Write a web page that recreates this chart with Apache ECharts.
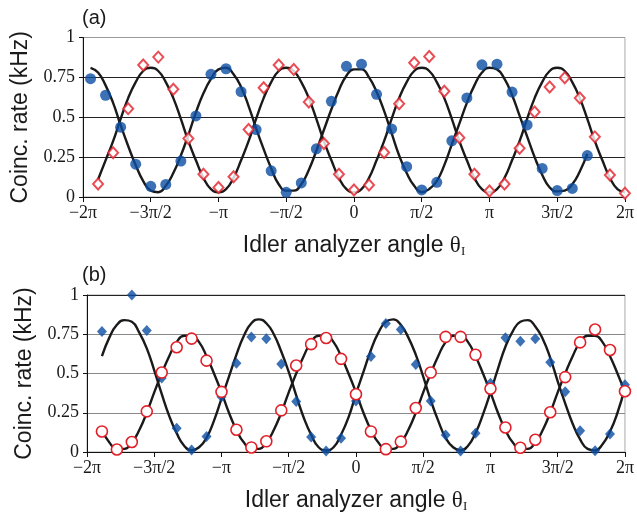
<!DOCTYPE html>
<html>
<head>
<meta charset="utf-8">
<script src="https://cdn.jsdelivr.net/npm/echarts@6/dist/echarts.min.js"></script>
<style>
  html, body { margin: 0; padding: 0; background: #fff; }
  #main { width: 637px; height: 514px; }
</style>
</head>
<body>
<div id="main"></div>
<script>
// angle tick positions (degrees) and their labels
var angleTicks = [-360, -270, -180, -90, 0, 90, 180, 270, 360];
var angleLabels = ['\u22122\u03c0', '\u22123\u03c0/2', '\u2212\u03c0', '\u2212\u03c0/2', '0', '\u03c0/2', '\u03c0', '3\u03c0/2', '2\u03c0'];

// panel (a) measured points
var aBlueAngle = [-350,-330,-310,-290,-270,-250,-230,-210,-190,-170,-150,-130,-110,-90,-70,-50,-30,-10,
                  10,30,50,70,90,110,130,150,170,190,210,230,250,270,290,310];
var aBlueRate = [0.742,0.638,0.438,0.206,0.067,0.079,0.225,0.508,0.769,0.804,0.66,0.423,0.164,0.029,0.088,0.302,0.60,0.819,
                 0.833,0.644,0.427,0.19,0.044,0.092,0.352,0.621,0.829,0.833,0.658,0.452,0.179,0.04,0.054,0.26];
var aRedAngle = [-340,-320,-300,-280,-260,-240,-220,-200,-180,-160,-140,-120,-100,-80,-60,-40,-20,0,
                 20,40,60,80,100,120,140,160,180,200,220,240,260,280,300,320,340,360];
var aRedRate = [0.081,0.277,0.554,0.827,0.877,0.675,0.367,0.142,0.06,0.127,0.423,0.685,0.827,0.80,0.596,0.335,0.142,0.044,
                0.075,0.279,0.585,0.842,0.881,0.663,0.371,0.142,0.038,0.081,0.306,0.533,0.69,0.748,0.621,0.377,0.138,0.023];

// panel (a) fitted curves, read every 10 degrees
var aBlueFitStart = -350;
var aBlueFit = [0.81,0.78,0.70,0.59,0.45,0.32,0.20,0.10,0.04,0.03,0.07,0.15,0.26,0.39,0.53,0.65,0.74,0.80,
                0.81,0.77,0.69,0.57,0.43,0.30,0.18,0.08,0.04,0.04,0.08,0.17,0.29,0.42,0.55,0.67,0.76,0.80,
                0.80,0.75,0.66,0.54,0.40,0.26,0.15,0.07,0.03,0.05,0.10,0.20,0.33,0.46,0.59,0.70,0.78,0.81,
                0.80,0.74,0.64,0.51,0.38,0.25,0.14,0.06,0.035,0.04,0.08,0.16,0.27];
var aRedFitStart = -340;
var aRedFit = [0.11,0.23,0.35,0.49,0.62,0.72,0.79,0.81,0.79,0.72,0.62,0.49,0.35,0.23,0.12,0.05,0.03,
               0.05,0.12,0.23,0.35,0.49,0.62,0.72,0.79,0.81,0.79,0.72,0.62,0.49,0.35,0.23,0.12,0.05,0.03,
               0.05,0.12,0.23,0.35,0.49,0.62,0.72,0.79,0.81,0.79,0.72,0.62,0.49,0.35,0.23,0.12,0.05,0.03,
               0.05,0.12,0.23,0.35,0.49,0.62,0.72,0.79,0.81,0.79,0.72,0.62,0.49,0.35,0.23,0.12,0.05,0.03];

// panel (b) measured points
var bBlueAngle = [-340,-300,-280,-260,-240,-220,-200,-180,-160,-140,-120,-100,-80,-60,-40,-20,
                  0,20,40,60,80,100,120,140,160,180,200,220,240,260,280,300,320,340,360];
var bBlueRate = [0.767,1.0,0.774,0.471,0.152,0.012,0.099,0.352,0.566,0.733,0.722,0.56,0.321,0.095,0.006,0.088,
                 0.325,0.609,0.819,0.78,0.557,0.325,0.109,0.006,0.119,0.438,0.728,0.706,0.722,0.572,0.383,0.136,0.008,0.115,0.428];
var bRedAngle = aRedAngle;
var bRedRate = [0.131,0.016,0.064,0.259,0.506,0.667,0.722,0.582,0.383,0.142,0.029,0.068,0.265,0.551,0.687,0.726,0.593,0.368,
                0.131,0.018,0.066,0.28,0.506,0.733,0.733,0.619,0.403,0.156,0.027,0.078,0.253,0.477,0.698,0.78,0.65,0.387];

// panel (b) fitted curves, read every 10 degrees
var bBlueFitStart = -340;
var bBlueFit = [0.61,0.73,0.81,0.84,0.83,0.76,0.66,0.52,0.37,0.23,0.12,0.04,0.01,0.03,0.09,0.20,0.34,0.48,
                0.62,0.74,0.82,0.845,0.82,0.75,0.64,0.51,0.36,0.22,0.11,0.03,0.01,0.03,0.11,0.22,0.37,0.51,
                0.65,0.76,0.83,0.845,0.81,0.73,0.62,0.48,0.33,0.20,0.09,0.03,0.01,0.04,0.12,0.24,0.38,0.53,
                0.67,0.77,0.83,0.84,0.80,0.72,0.60,0.45,0.31,0.18,0.08,0.02,0.01,0.05,0.13,0.25,0.41];
var bRedFitStart = -340;
var bRedFit = [0.14,0.06,0.02,0.02,0.06,0.14,0.25,0.38,0.50,0.61,0.70,0.74,0.74,0.70,0.61,0.50,0.38,0.25,
               0.14,0.06,0.02,0.02,0.06,0.14,0.25,0.38,0.50,0.61,0.70,0.74,0.74,0.70,0.61,0.50,0.38,0.25,
               0.14,0.06,0.02,0.02,0.06,0.14,0.25,0.38,0.50,0.61,0.70,0.74,0.74,0.70,0.61,0.50,0.38,0.25,
               0.14,0.06,0.02,0.02,0.06,0.14,0.25,0.38,0.50,0.61,0.70,0.74,0.74,0.70,0.61,0.50,0.38];

var BLUE = '#0b4ea2', RED = '#e2202a', INK = '#1a1a1a';
var SERIF = '"Liberation Serif", "DejaVu Serif", serif';
var SANS = '"Liberation Sans", Arial, sans-serif';

function pairs(xs, ys) {
    var res = [];
    for (var i = 0; i < ys.length; i++) res.push([xs[i], ys[i]]);
    return res;
}
function fitPairs(start, ys) {
    var res = [];
    for (var i = 0; i < ys.length; i++) res.push([start + 10 * i, ys[i]]);
    return res;
}
function angleLabel(v) {
    var i = angleTicks.indexOf(Math.round(v));
    return i >= 0 ? angleLabels[i] : '';
}

function xAxisFor(idx) {
    return {
        type: 'value', gridIndex: idx, min: -360, max: 360, interval: 90,
        name: 'Idler analyzer angle {th|\u03b8}{sub|I}',
        nameLocation: 'middle', nameGap: 36,
        nameTextStyle: {
            fontFamily: SANS, fontSize: 23, color: INK,
            rich: {
                th: { fontFamily: SERIF, fontSize: 23, color: INK },
                sub: { fontFamily: SERIF, fontSize: 13, color: INK, padding: [12, 0, 0, 0] }
            }
        },
        axisLine: { onZero: false, lineStyle: { color: '#111', width: 1 } },
        axisTick: { show: true, length: 5, lineStyle: { color: '#111' } },
        axisLabel: { formatter: angleLabel, fontFamily: SERIF, fontSize: 18, color: INK, margin: 7 },
        splitLine: { show: false }
    };
}
function yAxisFor(idx, lineColors) {
    return {
        type: 'value', gridIndex: idx, min: 0, max: 1, interval: 0.25,
        name: 'Coinc. rate (kHz)', nameLocation: 'middle', nameGap: 50,
        nameTextStyle: { fontFamily: SANS, fontSize: 23, color: INK },
        axisLine: { show: true, onZero: false, lineStyle: { color: '#111', width: 1 } },
        axisTick: { show: true, length: 4, lineStyle: { color: '#111' } },
        axisLabel: { fontFamily: SERIF, fontSize: 18, color: INK, margin: 8 },
        splitLine: { show: true, lineStyle: { color: lineColors, width: 1 } }
    };
}

var myChart = echarts.init(document.getElementById('main'));
var option = {
    backgroundColor: '#fff',
    animation: false,
    title: [
        { text: '(a)', left: 82, top: 8, padding: 0, textStyle: { fontFamily: SANS, fontSize: 20, fontWeight: 'normal', color: INK } },
        { text: '(b)', left: 82, top: 265, padding: 0, textStyle: { fontFamily: SANS, fontSize: 20, fontWeight: 'normal', color: INK } }
    ],
    grid: [
        { left: 83, right: 10, top: 37.5, height: 159.5, show: true, borderColor: '#aaa', borderWidth: 1 },
        { left: 87, right: 12, top: 295, height: 162, show: true, borderColor: '#aaa', borderWidth: 1 }
    ],
    xAxis: [xAxisFor(0), xAxisFor(1)],
    yAxis: [
        yAxisFor(0, ['#222', '#222', '#222', '#222', '#999']),
        yAxisFor(1, ['#222', '#888', '#888', '#888', '#222'])
    ],
    series: [
        { type: 'line', xAxisIndex: 0, yAxisIndex: 0, data: fitPairs(aBlueFitStart, aBlueFit), smooth: true,
          showSymbol: false, lineStyle: { color: INK, width: 2.4 }, z: 2 },
        { type: 'line', xAxisIndex: 0, yAxisIndex: 0, data: fitPairs(aRedFitStart, aRedFit), smooth: true,
          showSymbol: false, lineStyle: { color: INK, width: 2.4 }, z: 2 },
        { type: 'line', xAxisIndex: 1, yAxisIndex: 1, data: fitPairs(bBlueFitStart, bBlueFit), smooth: true,
          showSymbol: false, lineStyle: { color: INK, width: 2.4 }, z: 2 },
        { type: 'line', xAxisIndex: 1, yAxisIndex: 1, data: fitPairs(bRedFitStart, bRedFit), smooth: true,
          showSymbol: false, lineStyle: { color: INK, width: 2.4 }, z: 2 },
        { type: 'scatter', xAxisIndex: 0, yAxisIndex: 0, data: pairs(aBlueAngle, aBlueRate),
          symbol: 'circle', symbolSize: 11, itemStyle: { color: BLUE }, z: 4 },
        { type: 'scatter', xAxisIndex: 0, yAxisIndex: 0, data: pairs(aRedAngle, aRedRate),
          symbol: 'diamond', symbolSize: [10, 11], itemStyle: { color: '#fff', borderColor: RED, borderWidth: 2 }, z: 4 },
        { type: 'scatter', xAxisIndex: 1, yAxisIndex: 1, data: pairs(bBlueAngle, bBlueRate),
          symbol: 'diamond', symbolSize: [10, 11], itemStyle: { color: BLUE }, z: 4 },
        { type: 'scatter', xAxisIndex: 1, yAxisIndex: 1, data: pairs(bRedAngle, bRedRate),
          symbol: 'circle', symbolSize: 11, itemStyle: { color: '#fff', opacity: 1, borderColor: RED, borderWidth: 1.6 }, z: 4 }
    ]
};
myChart.setOption(option);
</script>
</body>
</html>
